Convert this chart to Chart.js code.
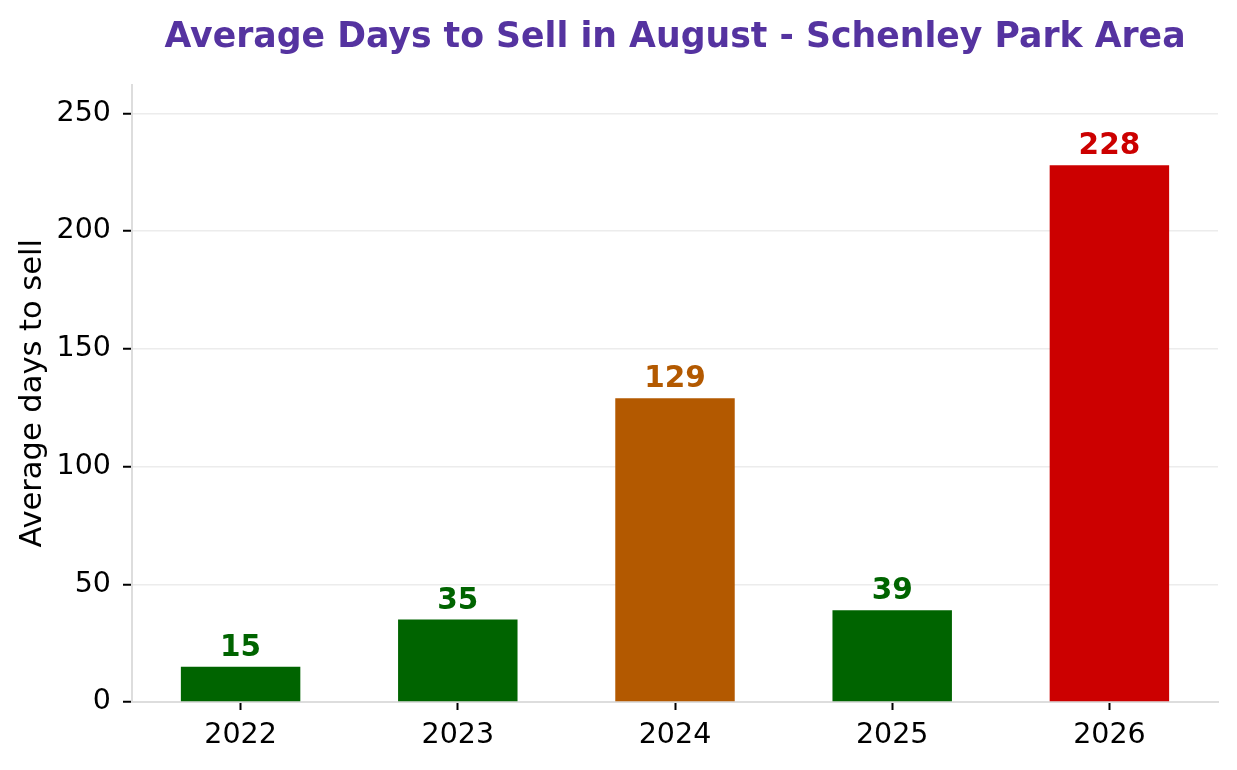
<!DOCTYPE html>
<html>
<head>
<meta charset="utf-8">
<script src="https://cdn.jsdelivr.net/npm/chart.js@4.4.1/dist/chart.umd.min.js"></script>
<style>
  html, body { margin: 0; padding: 0; background: #fff; }
  #wrapper { width: 1237px; height: 770px; }
</style>
</head>
<body>
<div id="wrapper"><canvas id="canvas"></canvas></div>
<script>
// data
var years = ['2022', '2023', '2024', '2025', '2026'];
var avgDays = [15, 35, 129, 39, 228];
var barColors = ['#006400', '#006400', '#b35900', '#006400', '#cc0000'];
var yTicks = [0, 50, 100, 150, 200, 250];

var FONT = "'DejaVu Sans', sans-serif";

// value labels above each bar
var valueLabels = {
  id: 'valueLabels',
  afterDatasetsDraw: function(chart) {
    var ctx = chart.ctx;
    var meta = chart.getDatasetMeta(0);
    ctx.save();
    ctx.font = 'bold 29.5px ' + FONT;
    ctx.textAlign = 'center';
    ctx.textBaseline = 'alphabetic';
    meta.data.forEach(function(bar, i) {
      ctx.fillStyle = barColors[i];
      ctx.fillText(String(avgDays[i]), bar.x, bar.y - 11);
    });
    ctx.restore();
  }
};

var ctx = document.getElementById('canvas');

var chart = new Chart(ctx, {
  type: 'bar',
  data: {
    labels: years,
    datasets: [{
      data: avgDays,
      backgroundColor: barColors,
      barPercentage: 0.55,
      categoryPercentage: 1.0
    }]
  },
  options: {
    responsive: true,
    maintainAspectRatio: false,
    animation: false,
    layout: { padding: { left: 0, right: 19, top: 0, bottom: 0 } },
    plugins: {
      legend: { display: false },
      tooltip: { enabled: false },
      title: {
        display: true,
        fullSize: false,
        text: 'Average Days to Sell in August - Schenley Park Area',
        color: '#5533a0',
        font: { family: FONT, size: 34.7, weight: 'bold' },
        padding: { top: 17, bottom: 26 }
      }
    },
    scales: {
      x: {
        grid: {
          display: true,
          offset: false,
          drawOnChartArea: false,
          color: 'rgba(0,0,0,0)',
          tickColor: '#000',
          tickLength: 8,
          tickWidth: 2
        },
        border: { color: '#dddddd', width: 2 },
        ticks: { color: '#000', font: { family: FONT, size: 28.5 }, padding: 8 },
        afterFit: function(scale) { scale.height = 68; }
      },
      y: {
        min: 0,
        max: 262.2,
        afterBuildTicks: function(scale) {
          scale.ticks = yTicks.map(function(v) { return { value: v }; });
        },
        grid: {
          color: '#ececec',
          lineWidth: 1.5,
          tickColor: '#000',
          tickLength: 9,
          tickWidth: 2
        },
        border: { color: '#dddddd', width: 2 },
        ticks: { color: '#000', font: { family: FONT, size: 28.5 }, padding: 12 },
        title: {
          display: true,
          text: 'Average days to sell',
          color: '#000',
          font: { family: FONT, size: 30.5 },
          padding: { top: 15, bottom: 0 }
        },
        afterFit: function(scale) { scale.width = 132; }
      }
    }
  },
  plugins: [valueLabels]
});
</script>
</body>
</html>
